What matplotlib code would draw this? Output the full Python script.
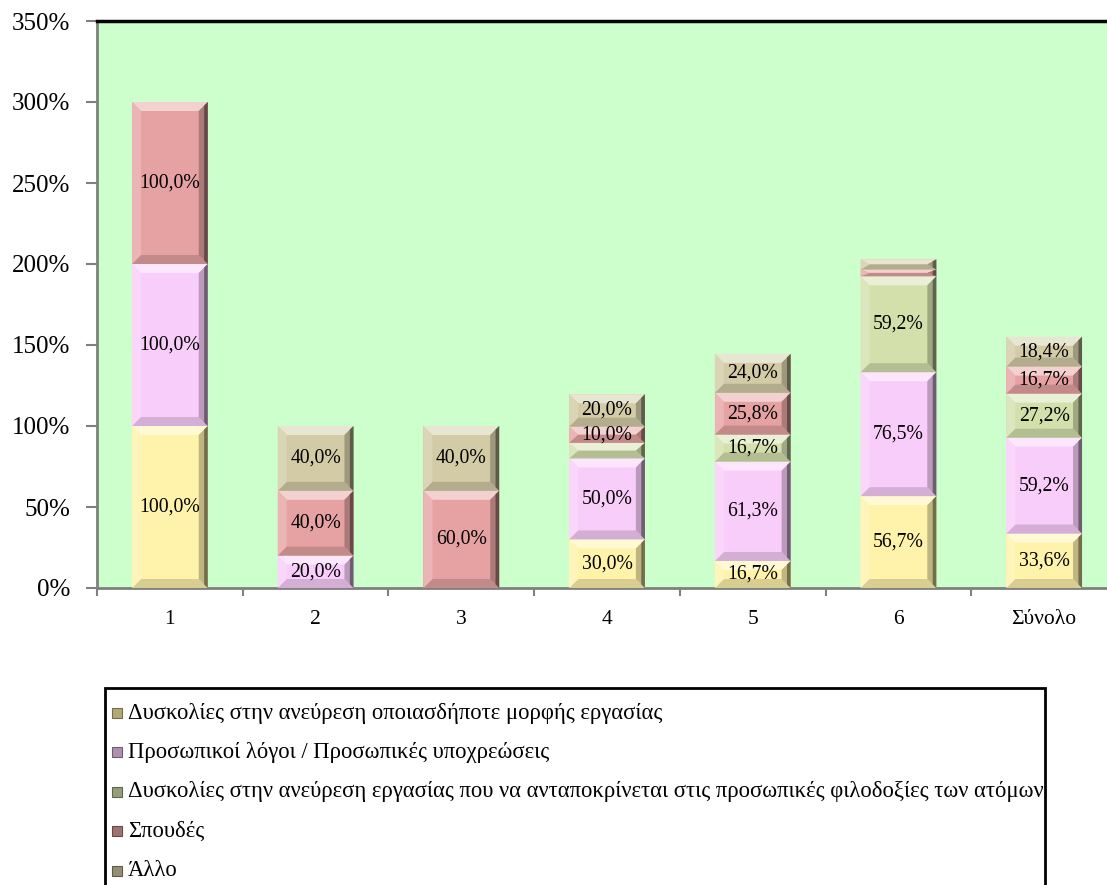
import numpy as np
import matplotlib
matplotlib.use('Agg')
import matplotlib.pyplot as plt
from matplotlib import colors
from matplotlib.patches import Polygon, Rectangle

plt.rcParams['font.family'] = ['Liberation Serif', 'DejaVu Serif']

categories = ['1', '2', '3', '4', '5', '6', 'Σύνολο']
series_names = [
    'Δυσκολίες στην ανεύρεση οποιασδήποτε μορφής εργασίας',
    'Προσωπικοί λόγοι / Προσωπικές υποχρεώσεις',
    'Δυσκολίες στην ανεύρεση εργασίας που να ανταποκρίνεται στις προσωπικές φιλοδοξίες των ατόμων',
    'Σπουδές',
    'Άλλο',
]
difficulty_any = [100.0, 0.0, 0.0, 30.0, 16.7, 56.7, 33.6]
personal = [100.0, 20.0, 0.0, 50.0, 61.3, 76.5, 59.2]
difficulty_ambition = [0.0, 0.0, 0.0, 9.6, 16.7, 59.2, 27.2]
studies = [100.0, 40.0, 60.0, 10.0, 25.8, 4.2, 16.7]
other = [0.0, 40.0, 40.0, 20.0, 24.0, 6.3, 18.4]
series = [difficulty_any, personal, difficulty_ambition, studies, other]
series_colors = ['#FFF2AA', '#F9CDF9', '#D3E0AC', '#E6A2A2', '#D2CBA6']
yticks = [0, 50, 100, 150, 200, 250, 300, 350]

W, H = 1107, 885
fig = plt.figure(figsize=(W / 100, H / 100), dpi=100)
ax = fig.add_axes([97 / W, 1 - 588 / H, 1020 / W, (588 - 21) / H])
ax.set_facecolor('#CCFFCC')
x = np.arange(len(categories))
ax.set_xlim(-0.5, len(categories) - 0.5)
ax.set_ylim(0, 350)


def mix(c, other_c, t):
    a = np.array(colors.to_rgb(c))
    b = np.array(colors.to_rgb(other_c))
    return tuple(a * (1 - t) + b * t)


def bevel(rect, color):
    w, h = rect.get_width(), rect.get_height()
    if h <= 0:
        return
    x0, y0 = rect.get_x(), rect.get_y()
    x1, y1 = x0 + w, y0 + h
    p0 = ax.transData.transform((0, 0))
    p1 = ax.transData.transform((1, 1))
    bx = min(9 / (p1[0] - p0[0]), w / 2)
    by = min(9 / (p1[1] - p0[1]), h / 2)
    parts = [
        ([(x0, y1), (x1, y1), (x1 - bx, y1 - by), (x0 + bx, y1 - by)], mix(color, 'white', 0.5)),
        ([(x0, y0), (x1, y0), (x1 - bx, y0 + by), (x0 + bx, y0 + by)], mix(color, 'black', 0.15)),
        ([(x0, y0), (x0 + bx, y0 + by), (x0 + bx, y1 - by), (x0, y1)], mix(color, 'white', 0.2)),
        ([(x1, y0), (x1 - bx, y0 + by), (x1 - bx, y1 - by), (x1, y1)], mix(color, 'black', 0.25)),
        ([(x1, y0), (x1 - bx * 0.4, y0 + by * 0.4), (x1 - bx * 0.4, y1 - by * 0.4), (x1, y1)],
         mix(color, 'black', 0.55)),
    ]
    for pts, c in parts:
        ax.add_patch(Polygon(pts, closed=True, facecolor=c, edgecolor='none', zorder=3))


bottom = np.zeros(len(categories))
for vals, col in zip(series, series_colors):
    bars = ax.bar(x, vals, 0.52, bottom=bottom, color=col, edgecolor='none', zorder=2)
    for rect, v in zip(bars, vals):
        bevel(rect, col)
        if v >= 10:
            ax.text(rect.get_x() + rect.get_width() / 2, rect.get_y() + v / 2,
                    f'{v:.1f}%'.replace('.', ','), ha='center', va='center',
                    fontsize=14.2, color='black', zorder=4)
    bottom += np.array(vals)

ax.set_yticks(yticks)
ax.set_yticklabels([f'{t}%' for t in yticks], fontsize=18)
ax.set_xticks(x)
ax.set_xticklabels(categories, fontsize=15.5)
ax.set_xticks(np.arange(len(categories) + 1) - 0.5, minor=True)
ax.tick_params(axis='x', which='major', length=0, pad=16)
ax.tick_params(axis='x', which='minor', length=6, width=1.5, color='#808080', direction='out')
ax.tick_params(axis='y', length=8, width=1.5, color='#808080', direction='out', pad=11)
for s in ['left', 'bottom']:
    ax.spines[s].set_color('#808080')
    ax.spines[s].set_linewidth(2)
ax.spines['top'].set_color('black')
ax.spines['top'].set_linewidth(2.5)
ax.spines['right'].set_visible(False)

# legend drawn by hand so the long label can overflow the frame like the original
def fx(px):
    return px / W


def fy(py):
    return 1 - py / H


fig.patches.append(Rectangle((fx(105), fy(892)), fx(1045) - fx(105), fy(688) - fy(892),
                             transform=fig.transFigure, facecolor='white',
                             edgecolor='black', linewidth=2, zorder=1))
for i, (name, col) in enumerate(zip(series_names, series_colors)):
    yc = 713 + i * 39.4
    chip_col = mix(col, 'black', 0.3)
    fig.patches.append(Rectangle((fx(112), fy(yc + 5)), fx(10), fy(0) - fy(10),
                                 transform=fig.transFigure, facecolor=chip_col,
                                 edgecolor=mix(col, 'black', 0.55), linewidth=0.8, zorder=2))
    fig.text(fx(128), fy(yc), name, fontsize=16.3, va='center', ha='left', zorder=3)

fig.savefig('out.png', dpi=100)
